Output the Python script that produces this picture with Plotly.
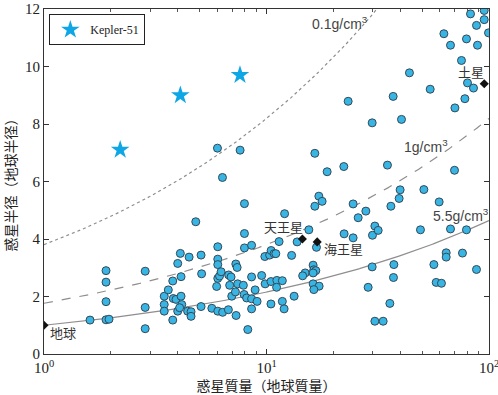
import numpy as np
import plotly.graph_objects as go

# Exoplanet masses (Earth masses) and radii (Earth radii)
mass = [1.61, 1.90, 1.90, 1.90, 1.90, 1.96, 2.85, 2.85, 2.85, 3.47,
        3.62, 3.47, 3.47, 3.79, 3.79, 3.81, 3.92, 3.99, 4.10, 4.13,
        4.13, 4.16, 3.99, 4.07, 4.49, 4.42, 4.58, 4.58, 4.81, 5.08,
        5.11, 5.08, 5.68, 6.04, 6.04, 6.04, 5.97, 6.04, 6.15, 6.25,
        6.04, 6.35, 6.74, 6.76, 6.93, 6.83, 6.98, 7.28, 7.38, 7.42,
        7.25, 7.30, 7.87, 7.93, 8.14, 8.24, 7.96, 7.96, 7.96, 6.02,
        7.61, 6.34, 8.57, 8.57, 8.57, 8.57, 8.89, 9.07, 9.51, 9.83,
        9.86, 10.33, 10.49, 10.82, 11.01, 10.47, 10.47, 11.13, 11.78, 11.10,
        11.78, 12.00, 11.39, 12.06, 12.97, 13.31, 13.73, 15.50, 14.92, 14.54,
        16.20, 16.32, 16.66, 16.20, 16.20, 17.24, 16.32, 16.77, 17.19, 17.78,
        16.49, 16.49, 18.73, 22.26, 23.28, 22.33, 24.51, 24.51, 27.96, 25.82,
        29.85, 29.94, 30.69, 31.76, 29.85, 28.63, 30.69, 33.44, 35.84, 37.36,
        37.21, 34.96, 36.23, 37.09, 40.43, 43.90, 54.41, 39.87, 50.96, 39.46,
        59.71, 49.20, 67.13, 79.21, 56.53, 64.21, 64.21, 75.99, 57.89, 61.14,
        87.86, 69.98, 62.69, 67.13, 79.21, 88.77, 82.58, 87.86, 95.15, 95.15,
        99.5, 75.21, 80.04, 85.17, 77.91, 70.27]
radius = [1.18, 2.90, 2.50, 1.82, 1.19, 1.21, 2.88, 1.62, 0.88, 2.01,
          2.23, 1.72, 1.49, 2.54, 1.18, 1.93, 1.90, 3.15, 3.50, 2.69,
          2.01, 1.72, 1.49, 1.61, 3.37, 1.49, 1.47, 1.31, 4.60, 3.44,
          2.79, 1.65, 1.59, 3.73, 3.30, 3.11, 2.35, 2.63, 2.71, 2.86,
          1.49, 1.45, 1.54, 2.75, 2.68, 2.39, 2.01, 3.13, 3.01, 2.44,
          2.16, 1.34, 2.39, 2.07, 1.95, 0.85, 5.23, 4.19, 3.69, 7.16,
          7.09, 6.14, 3.78, 2.68, 1.92, 1.57, 2.23, 1.83, 2.73, 3.39,
          2.44, 3.44, 3.60, 3.49, 3.49, 2.52, 1.74, 2.56, 2.55, 2.32,
          1.83, 1.57, 3.91, 4.88, 3.43, 2.01, 3.90, 4.32, 2.82, 2.72,
          3.09, 2.93, 2.90, 2.82, 2.44, 2.36, 2.24, 3.71, 5.49, 5.31,
          5.14, 6.98, 6.34, 6.52, 8.79, 4.18, 4.04, 5.22, 4.97, 4.74,
          8.04, 4.13, 4.45, 4.30, 3.03, 2.32, 1.14, 1.14, 1.76, 3.11,
          2.66, 6.57, 5.14, 8.96, 8.16, 9.78, 9.21, 5.71, 5.72, 5.41,
          5.29, 4.32, 4.35, 4.32, 3.11, 3.52, 3.37, 3.51, 2.49, 2.46,
          2.94, 6.39, 11.14, 10.74, 10.96, 10.74, 11.83, 11.43, 11.63, 11.95,
          11.17, 10.21, 9.43, 9.25, 8.88, 8.56]

# Kepler-51 planets
kepler_mass = [2.2, 4.1, 7.6]
kepler_radius = [7.1, 9.0, 9.7]

# Solar-system reference planets
solar_names = ["地球", "天王星", "海王星", "土星"]
solar_mass = [1.0, 14.5, 16.9, 95.2]
solar_radius = [1.0, 4.0, 3.9, 9.4]

# Constant-density curves (g/cm^3); Earth mean density is 5.5
densities = [0.1, 1.0, 5.5]
density_labels = ["0.1g/cm<sup>3</sup>", "1g/cm<sup>3</sup>", "5.5g/cm<sup>3</sup>"]
density_dash = ["dot", "dash", "solid"]

x_tickvals = [1, 10, 100]
x_ticktext = ["10<sup>0</sup>", "10<sup>1</sup>", "10<sup>2</sup>"]
x_minor_tickvals = [2, 3, 4, 5, 6, 7, 8, 9, 20, 30, 40, 50, 60, 70, 80, 90]
y_tickvals = [0, 2, 4, 6, 8, 10, 12]

fig = go.Figure()

m_grid = np.logspace(0, 2, 300)
for rho, dash in zip(densities, density_dash):
    fig.add_trace(go.Scatter(
        x=m_grid, y=(m_grid * 5.5 / rho) ** (1 / 3), mode="lines",
        line=dict(color="#8e8e8e", width=1.2, dash=dash),
        showlegend=False, hoverinfo="skip"))

fig.add_trace(go.Scatter(
    x=mass, y=radius, mode="markers",
    marker=dict(size=8, color="#38b5e3", line=dict(color="#34495a", width=1)),
    showlegend=False))

fig.add_trace(go.Scatter(
    x=kepler_mass, y=kepler_radius, mode="markers", name="Kepler-51",
    marker=dict(symbol="star", size=14, color="#0fa6e6", line=dict(width=0))))

fig.add_trace(go.Scatter(
    x=solar_mass, y=solar_radius, mode="markers",
    marker=dict(symbol="diamond", size=7, color="#111111"),
    showlegend=False))

# Text labels
label_font = dict(family="Arial, Liberation Sans, sans-serif", size=14, color="#444444")
cjk_font = dict(family="Noto Sans CJK JP", size=13, color="#333333")
density_pos = [(1.331, 11.50), (1.718, 7.22), (1.875, 4.85)]
for text, (lx, ly) in zip(density_labels, density_pos):
    fig.add_annotation(x=lx, y=ly, text=text, showarrow=False, font=label_font)
solar_pos = [(0.085, 0.75), (1.075, 4.43), (1.344, 3.68), (1.920, 9.83)]
for name, (lx, ly) in zip(solar_names, solar_pos):
    fig.add_annotation(x=lx, y=ly, text=name, showarrow=False, font=cjk_font)

tick_font = dict(family="Liberation Serif, Times New Roman, serif", size=15, color="#222222")
title_font = dict(family="Noto Sans CJK JP", size=14, color="#222222")

fig.update_xaxes(
    type="log", range=[0, 2], tickvals=x_tickvals, ticktext=x_ticktext,
    ticks="inside", ticklen=5, tickcolor="#333333", ticklabeloverflow="allow",
    minor=dict(tickvals=x_minor_tickvals, ticks="inside", ticklen=3, tickcolor="#555555"),
    showline=True, linecolor="#333333", linewidth=1, mirror="allticks",
    showgrid=False, zeroline=False, tickfont=tick_font, automargin=False,
    title=dict(text="惑星質量（地球質量）", font=title_font, standoff=8))
fig.update_yaxes(
    range=[0, 12], tickvals=y_tickvals,
    ticks="inside", ticklen=5, tickcolor="#333333",
    showline=True, linecolor="#333333", linewidth=1, mirror="allticks",
    showgrid=False, zeroline=False, tickfont=tick_font, automargin=False,
    title=dict(text="惑星半径（地球半径）", font=title_font, standoff=6))

fig.update_layout(
    width=498, height=395,
    margin=dict(l=44, r=9, t=9, b=41),
    paper_bgcolor="white", plot_bgcolor="white",
    legend=dict(x=0.012, y=0.985, xanchor="left", yanchor="top",
                bordercolor="#222222", borderwidth=1, bgcolor="white",
                font=dict(family="Liberation Serif, Times New Roman, serif", size=12, color="#222222"),
                itemwidth=30, tracegroupgap=0),
)

fig.write_html("out.html")
